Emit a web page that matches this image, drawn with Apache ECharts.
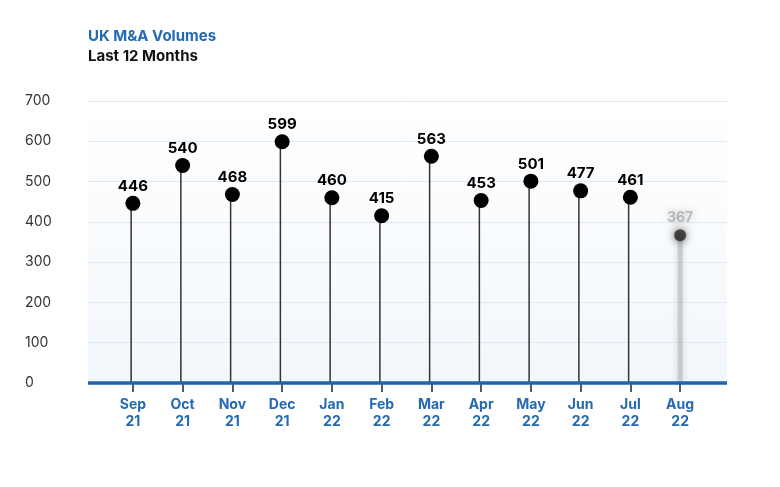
<!DOCTYPE html>
<html>
<head>
<meta charset="utf-8">
<script src="https://cdn.jsdelivr.net/npm/echarts@6/dist/echarts.min.js"></script>
<style>
  html, body { margin: 0; padding: 0; background: #fff; }
  #chart { width: 780px; height: 487px; }
</style>
</head>
<body>
<div id="chart"></div>
<script>
// month labels (two lines: month / year)
let months = ['Sep\n21', 'Oct\n21', 'Nov\n21', 'Dec\n21', 'Jan\n22', 'Feb\n22',
    'Mar\n22', 'Apr\n22', 'May\n22', 'Jun\n22', 'Jul\n22', 'Aug\n22'];
// deal volumes, last month still pending
let volumes = [446, 540, 468, 599, 460, 415, 563, 453, 501, 477, 461, null];
let pendingVolumes = [null, null, null, null, null, null, null, null, null, null, null, 367];
let yTicks = [0, 100, 200, 300, 400, 500, 600, 700];

let font = 'Inter, Lato, sans-serif';
let blue = '#2469b3';

let myChart = echarts.init(document.getElementById('chart'));

let option = {
    animation: false,
    textStyle: {fontFamily: font},
    title: {
        text: 'UK M&A Volumes',
        subtext: 'Last 12 Months',
        left: 83,
        top: 24,
        itemGap: 5,
        textStyle: {color: blue, fontSize: 15, fontWeight: 'bold', fontFamily: font},
        subtextStyle: {color: '#111', fontSize: 15, fontWeight: 'bold', fontFamily: font}
    },
    grid: [
        {
            // background + horizontal lines
            left: 88, right: 53, top: 101, bottom: 104,
            show: true,
            borderWidth: 0,
            backgroundColor: new echarts.graphic.LinearGradient(0, 0, 0, 1, [
                {offset: 0, color: '#ffffff'},
                {offset: 1, color: '#f2f7fc'}
            ])
        },
        {
            // data area
            left: 108, right: 75, top: 101, bottom: 104
        }
    ],
    xAxis: [
        {
            gridIndex: 0,
            type: 'category',
            data: months,
            show: false
        },
        {
            gridIndex: 1,
            type: 'category',
            data: months,
            axisLine: {show: false},
            axisTick: {show: true, alignWithLabel: true, length: 9, lineStyle: {color: '#222', width: 1.5}},
            axisLabel: {
                color: blue, fontSize: 14, fontWeight: 'bold', lineHeight: 17,
                margin: 13, fontFamily: font
            }
        }
    ],
    yAxis: [
        {
            gridIndex: 0,
            type: 'value',
            min: 0, max: 700, interval: 100,
            axisLine: {show: false},
            axisTick: {show: false},
            splitLine: {lineStyle: {color: '#dfeaf6', width: 1}},
            axisLabel: {
                color: '#333', fontSize: 14, align: 'left', margin: 63, fontFamily: font,
                formatter: function (v) { return yTicks.indexOf(v) !== -1 ? String(v) : ''; }
            }
        },
        {
            gridIndex: 1,
            type: 'value',
            min: 0, max: 700, interval: 100,
            show: false
        }
    ],
    series: [
        {
            // stems
            type: 'bar',
            xAxisIndex: 1, yAxisIndex: 1,
            data: volumes,
            barWidth: 1.5,
            barGap: '-100%',
            itemStyle: {color: '#333'},
            z: 3
        },
        {
            type: 'scatter',
            xAxisIndex: 1, yAxisIndex: 1,
            data: volumes,
            symbolSize: 15,
            itemStyle: {color: '#000', opacity: 1},
            label: {
                show: true, position: 'top', distance: 2,
                color: '#000', fontSize: 15, fontWeight: 'bold', fontFamily: font
            },
            z: 5
        },
        {
            // pending month, shown blurred
            type: 'bar',
            xAxisIndex: 1, yAxisIndex: 1,
            data: pendingVolumes,
            barWidth: 5,
            barGap: '-100%',
            itemStyle: {
                color: 'rgba(175,175,180,0.5)',
                shadowBlur: 6,
                shadowColor: 'rgba(140,140,145,0.7)'
            },
            z: 3
        },
        {
            type: 'scatter',
            xAxisIndex: 1, yAxisIndex: 1,
            data: pendingVolumes,
            symbolSize: 12,
            itemStyle: {
                color: 'rgba(40,40,40,0.8)',
                opacity: 1,
                shadowBlur: 8,
                shadowColor: 'rgba(0,0,0,0.8)'
            },
            label: {
                show: true, position: 'top', distance: 4,
                color: 'rgba(110,110,110,0.4)', fontSize: 14, fontWeight: 'bold', fontFamily: font,
                textShadowColor: 'rgba(90,90,90,1)', textShadowBlur: 8
            },
            z: 5
        },
        {
            // blue baseline
            type: 'line',
            xAxisIndex: 0, yAxisIndex: 0,
            data: [],
            markLine: {
                silent: true,
                symbol: 'none',
                label: {show: false},
                lineStyle: {color: '#1f63b0', width: 3.5, type: 'solid'},
                data: [{yAxis: 0}]
            },
            z: 4
        }
    ]
};

myChart.setOption(option);
</script>
</body>
</html>
